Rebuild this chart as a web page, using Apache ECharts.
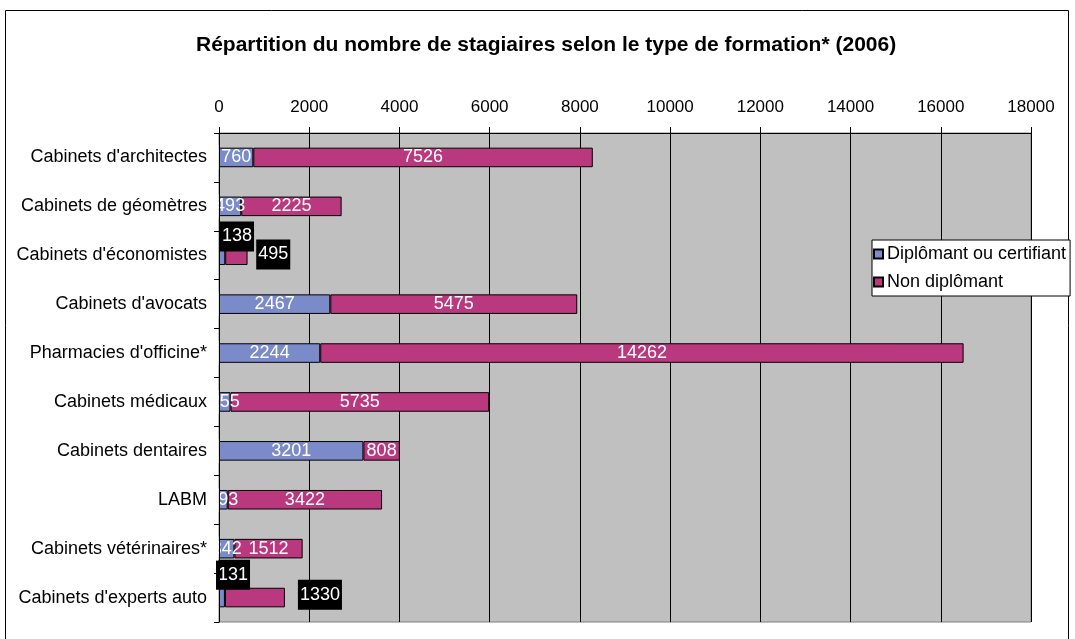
<!DOCTYPE html>
<html>
<head>
<meta charset="utf-8">
<script src="https://cdn.jsdelivr.net/npm/echarts@6/dist/echarts.min.js"></script>
<style>
  html, body { margin: 0; padding: 0; background: #fff; }
  #chart { width: 1075px; height: 639px; }
</style>
</head>
<body>
<div id="chart"></div>
<script>
// catégories (de haut en bas)
const categories = [
  "Cabinets d'architectes",
  'Cabinets de géomètres',
  "Cabinets d'économistes",
  "Cabinets d'avocats",
  "Pharmacies d'officine*",
  'Cabinets médicaux',
  'Cabinets dentaires',
  'LABM',
  'Cabinets vétérinaires*',
  "Cabinets d'experts auto"
];
const diplomant = [760, 493, 138, 2467, 2244, 255, 3201, 193, 342, 131];
const nonDiplomant = [7526, 2225, 495, 5475, 14262, 5735, 808, 3422, 1512, 1330];
const xTicks = [0, 2000, 4000, 6000, 8000, 10000, 12000, 14000, 16000, 18000];

const FONT = '"Liberation Sans", Arial, sans-serif';

// étiquettes "boîte noire" pour les petites barres (comme dans Excel)
const blackLabels = {
  diplomant: { 2: [1, -24], 9: [-3, -28] },
  nonDiplomant: { 2: [31, -6], 9: [73, -8] }
};

function buildData(values, key) {
  return values.map((v, i) => {
    const pos = blackLabels[key][i];
    if (!pos) return v;
    return {
      value: v,
      label: {
        position: pos,
        align: 'left',
        verticalAlign: 'top',
        backgroundColor: '#000',
        padding: [6, 2, 6, 2]
      }
    };
  });
}

const chart = echarts.init(document.getElementById('chart'));

const option = {
  backgroundColor: '#fff',
  animation: false,
  textStyle: { fontFamily: FONT },
  title: {
    text: 'Répartition du nombre de stagiaires selon le type de formation* (2006)',
    left: 191,
    top: 30,
    textStyle: { fontFamily: FONT, fontSize: 21, fontWeight: 'bold', color: '#000' }
  },
  legend: {
    orient: 'vertical',
    left: 872,
    top: 240,
    z: 6,
    backgroundColor: '#fff',
    borderColor: '#000',
    borderWidth: 1,
    padding: [5, 4, 5, 1],
    itemWidth: 9,
    itemHeight: 9,
    itemGap: 10,
    icon: 'rect',
    textStyle: { fontFamily: FONT, fontSize: 18, color: '#000', padding: [0, 0, 0, -1] },
    data: ['Diplômant ou certifiant', 'Non diplômant']
  },
  grid: {
    left: 219,
    top: 133,
    right: 44,
    bottom: 17,
    show: true,
    backgroundColor: '#c0c0c0',
    borderColor: '#808080',
    borderWidth: 1
  },
  xAxis: {
    type: 'value',
    position: 'top',
    min: xTicks[0],
    max: xTicks[xTicks.length - 1],
    interval: 2000,
    axisLine: { show: true, lineStyle: { color: '#000', width: 1 } },
    axisTick: { show: true, length: 6, lineStyle: { color: '#000' } },
    axisLabel: { color: '#000', fontSize: 17, fontFamily: FONT, margin: 17, formatter: v => String(v) },
    splitLine: { show: true, lineStyle: { color: '#000', width: 1 } }
  },
  yAxis: {
    type: 'category',
    inverse: true,
    z: 10,
    data: categories,
    axisLine: { show: true, lineStyle: { color: '#000', width: 1 } },
    axisTick: { show: true, length: 5, lineStyle: { color: '#000' } },
    axisLabel: { color: '#000', fontSize: 18, fontFamily: FONT, margin: 12 }
  },
  series: [
    {
      name: 'Diplômant ou certifiant',
      type: 'bar',
      stack: 'total',
      barWidth: '40%',
      itemStyle: { color: '#7b8ac9', borderColor: '#000', borderWidth: 1 },
      label: { show: true, position: 'inside', color: '#fff', fontSize: 18, fontFamily: FONT },
      data: buildData(diplomant, 'diplomant')
    },
    {
      name: 'Non diplômant',
      type: 'bar',
      stack: 'total',
      barWidth: '40%',
      itemStyle: { color: '#b9387e', borderColor: '#000', borderWidth: 1 },
      label: { show: true, position: 'inside', color: '#fff', fontSize: 18, fontFamily: FONT },
      data: buildData(nonDiplomant, 'nonDiplomant')
    }
  ]
};
chart.setOption(option);

// masques blancs à gauche de l'axe : Excel coupe les étiquettes au bord du tracé
const x0 = chart.convertToPixel({ xAxisIndex: 0 }, 0);
const masks = [];
categories.forEach((c, i) => {
  if (blackLabels.diplomant[i]) return;
  const y = chart.convertToPixel({ yAxisIndex: 0 }, i);
  masks.push({
    type: 'rect',
    z: 5,
    silent: true,
    shape: { x: x0 - 11, y: y - 12, width: 10.5, height: 24 },
    style: { fill: '#fff' }
  });
});

chart.setOption({
  graphic: [
    {
      // cadre de la zone de graphique
      type: 'rect',
      shape: { x: 5.5, y: 10.5, width: 1063, height: 640 },
      style: { fill: 'none', stroke: '#000', lineWidth: 1 },
      silent: true
    }
  ].concat(masks)
});
</script>
</body>
</html>
